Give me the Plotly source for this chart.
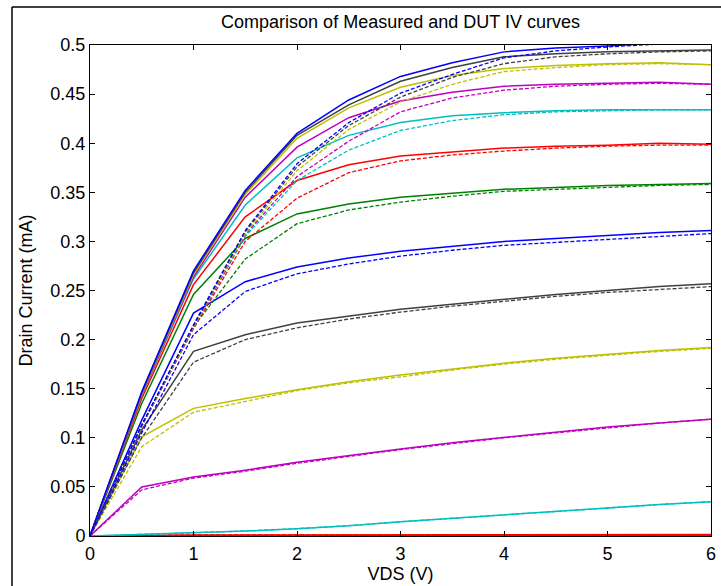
import plotly.graph_objects as go

vds = [0, 0.5, 1, 1.5, 2, 2.5, 3, 3.5, 4, 4.5, 5, 5.5, 6]

# MATLAB colour order b, g, r, c, m, y, k
colors = ["#0000FF", "#008000", "#FF0000", "#00BFBF", "#BF00BF", "#BFBF00", "#404040"]

# Measured curves (solid), lowest gate bias first
meas_1 = [0, 0.0001, 0.0001, 0.0001, 0.0002, 0.0002, 0.0002, 0.0002, 0.0003, 0.0003, 0.0003, 0.0003, 0.0003]
meas_2 = [0, 0.0002, 0.0003, 0.0003, 0.0004, 0.0004, 0.0005, 0.0005, 0.0006, 0.0006, 0.0007, 0.0007, 0.0008]
meas_3 = [0, 0.0008, 0.0010, 0.0011, 0.0012, 0.0012, 0.0013, 0.0013, 0.0013, 0.0014, 0.0014, 0.0014, 0.0015]
meas_4 = [0, 0.0015, 0.003, 0.005, 0.0075, 0.0105, 0.0145, 0.018, 0.0215, 0.025, 0.029, 0.032, 0.035]
meas_5 = [0, 0.050, 0.060, 0.067, 0.075, 0.082, 0.0885, 0.095, 0.1005, 0.106, 0.111, 0.115, 0.119]
meas_6 = [0, 0.101, 0.130, 0.140, 0.149, 0.157, 0.164, 0.170, 0.176, 0.181, 0.185, 0.189, 0.192]
meas_7 = [0, 0.108, 0.188, 0.205, 0.217, 0.224, 0.231, 0.236, 0.241, 0.246, 0.250, 0.254, 0.257]
meas_8 = [0, 0.118, 0.227, 0.259, 0.274, 0.283, 0.290, 0.295, 0.300, 0.303, 0.306, 0.309, 0.311]
meas_9 = [0, 0.135, 0.246, 0.303, 0.328, 0.338, 0.345, 0.349, 0.353, 0.355, 0.357, 0.358, 0.359]
meas_10 = [0, 0.140, 0.256, 0.325, 0.362, 0.378, 0.387, 0.391, 0.395, 0.397, 0.398, 0.400, 0.399]
meas_11 = [0, 0.143, 0.262, 0.337, 0.385, 0.408, 0.421, 0.428, 0.431, 0.433, 0.434, 0.434, 0.434]
meas_12 = [0, 0.144, 0.264, 0.345, 0.396, 0.426, 0.443, 0.452, 0.458, 0.460, 0.461, 0.462, 0.460]
meas_13 = [0, 0.145, 0.266, 0.348, 0.405, 0.436, 0.457, 0.469, 0.476, 0.479, 0.481, 0.482, 0.480]
meas_14 = [0, 0.146, 0.268, 0.350, 0.408, 0.439, 0.463, 0.477, 0.488, 0.491, 0.493, 0.494, 0.495]
meas_15 = [0, 0.147, 0.270, 0.352, 0.410, 0.444, 0.468, 0.482, 0.493, 0.497, 0.499, 0.502, 0.503]

# DUT model curves (dashed)
dut_1 = [0, 0.0001, 0.0001, 0.0001, 0.0002, 0.0002, 0.0002, 0.0002, 0.0003, 0.0003, 0.0003, 0.0003, 0.0003]
dut_2 = [0, 0.0002, 0.0003, 0.0003, 0.0004, 0.0004, 0.0005, 0.0005, 0.0006, 0.0006, 0.0007, 0.0007, 0.0008]
dut_3 = [0, 0.0008, 0.0010, 0.0011, 0.0012, 0.0012, 0.0013, 0.0013, 0.0013, 0.0014, 0.0014, 0.0014, 0.0015]
dut_4 = [0, 0.0015, 0.003, 0.005, 0.0075, 0.0105, 0.0145, 0.018, 0.0215, 0.025, 0.029, 0.032, 0.035]
dut_5 = [0, 0.047, 0.059, 0.066, 0.074, 0.081, 0.088, 0.094, 0.100, 0.105, 0.110, 0.115, 0.119]
dut_6 = [0, 0.091, 0.126, 0.137, 0.148, 0.156, 0.162, 0.169, 0.175, 0.180, 0.184, 0.188, 0.191]
dut_7 = [0, 0.100, 0.177, 0.200, 0.212, 0.221, 0.228, 0.234, 0.239, 0.244, 0.248, 0.251, 0.254]
dut_8 = [0, 0.105, 0.205, 0.249, 0.267, 0.277, 0.285, 0.291, 0.296, 0.299, 0.302, 0.305, 0.308]
dut_9 = [0, 0.113, 0.213, 0.282, 0.318, 0.332, 0.340, 0.346, 0.351, 0.353, 0.355, 0.357, 0.358]
dut_10 = [0, 0.112, 0.211, 0.300, 0.344, 0.370, 0.382, 0.388, 0.392, 0.395, 0.397, 0.398, 0.398]
dut_11 = [0, 0.112, 0.212, 0.305, 0.362, 0.393, 0.413, 0.423, 0.429, 0.432, 0.433, 0.434, 0.434]
dut_12 = [0, 0.112, 0.212, 0.307, 0.366, 0.402, 0.432, 0.446, 0.454, 0.458, 0.460, 0.461, 0.460]
dut_13 = [0, 0.112, 0.213, 0.308, 0.372, 0.414, 0.442, 0.460, 0.473, 0.477, 0.480, 0.481, 0.480]
dut_14 = [0, 0.113, 0.214, 0.310, 0.376, 0.418, 0.447, 0.467, 0.481, 0.488, 0.491, 0.493, 0.494]
dut_15 = [0, 0.113, 0.215, 0.311, 0.379, 0.421, 0.451, 0.470, 0.487, 0.494, 0.498, 0.501, 0.502]

measured = [meas_1, meas_2, meas_3, meas_4, meas_5, meas_6, meas_7, meas_8,
            meas_9, meas_10, meas_11, meas_12, meas_13, meas_14, meas_15]
dut = [dut_1, dut_2, dut_3, dut_4, dut_5, dut_6, dut_7, dut_8,
       dut_9, dut_10, dut_11, dut_12, dut_13, dut_14, dut_15]

x_ticks = [0, 1, 2, 3, 4, 5, 6]
x_ticktext = ["0", "1", "2", "3", "4", "5", "6"]
y_ticks = [0, 0.05, 0.1, 0.15, 0.2, 0.25, 0.3, 0.35, 0.4, 0.45, 0.5]
y_ticktext = ["0", "0.05", "0.1", "0.15", "0.2", "0.25", "0.3", "0.35", "0.4", "0.45", "0.5"]

fig = go.Figure()
for i, (m, d) in enumerate(zip(measured, dut)):
    c = colors[i % len(colors)]
    fig.add_trace(go.Scatter(x=vds, y=m, mode="lines",
                             line=dict(color=c, width=1.5), showlegend=False))
    fig.add_trace(go.Scatter(x=vds, y=d, mode="lines",
                             line=dict(color=c, width=1.3, dash="4px,2px"), showlegend=False))

font_family = "Liberation Sans, Arial, sans-serif"
W, H = 721, 586
L, R, T, B = 90, 10, 45, 50
pw, ph = W - L - R, H - T - B

fig.update_layout(
    template="none",
    width=W, height=H,
    margin=dict(l=L, r=R, t=T, b=B),
    paper_bgcolor="white", plot_bgcolor="white",
    font=dict(family=font_family, color="black", size=18),
    title=dict(text="Comparison of Measured and DUT IV curves",
               x=(L + pw / 2) / W, xanchor="center",
               y=1 - 22 / H, yanchor="middle",
               font=dict(size=18, family=font_family, color="black")),
    xaxis=dict(range=[0, 6], tickvals=x_ticks, ticktext=x_ticktext, automargin=False,
               showgrid=False, zeroline=False, showline=True, linecolor="black",
               linewidth=1, mirror="ticks", ticks="inside", ticklen=5,
               tickcolor="black", tickfont=dict(size=18), ticklabelstandoff=1,
               title=dict(text="VDS (V)", font=dict(size=18), standoff=4)),
    yaxis=dict(range=[0, 0.5], tickvals=y_ticks, ticktext=y_ticktext, automargin=False,
               showgrid=False, zeroline=False, showline=True, linecolor="black",
               linewidth=1, mirror="ticks", ticks="inside", ticklen=5,
               tickcolor="black", tickfont=dict(size=18),
               title=dict(text="Drain Current (mA)", font=dict(size=18), standoff=13)),
    shapes=[
        dict(type="line", xref="paper", yref="paper",
             x0=(12 - L) / pw, x1=(W + 5 - L) / pw,
             y0=(H - B - 7) / ph, y1=(H - B - 7) / ph,
             line=dict(color="black", width=1.5)),
        dict(type="line", xref="paper", yref="paper",
             x0=(12 - L) / pw, x1=(12 - L) / pw,
             y0=(H - B - 7) / ph, y1=-(B + 5) / ph,
             line=dict(color="black", width=1.5)),
    ],
)

fig.write_html("out.html", config={"displayModeBar": False},
               post_script="document.body.style.margin='0';document.body.style.overflow='hidden';")
